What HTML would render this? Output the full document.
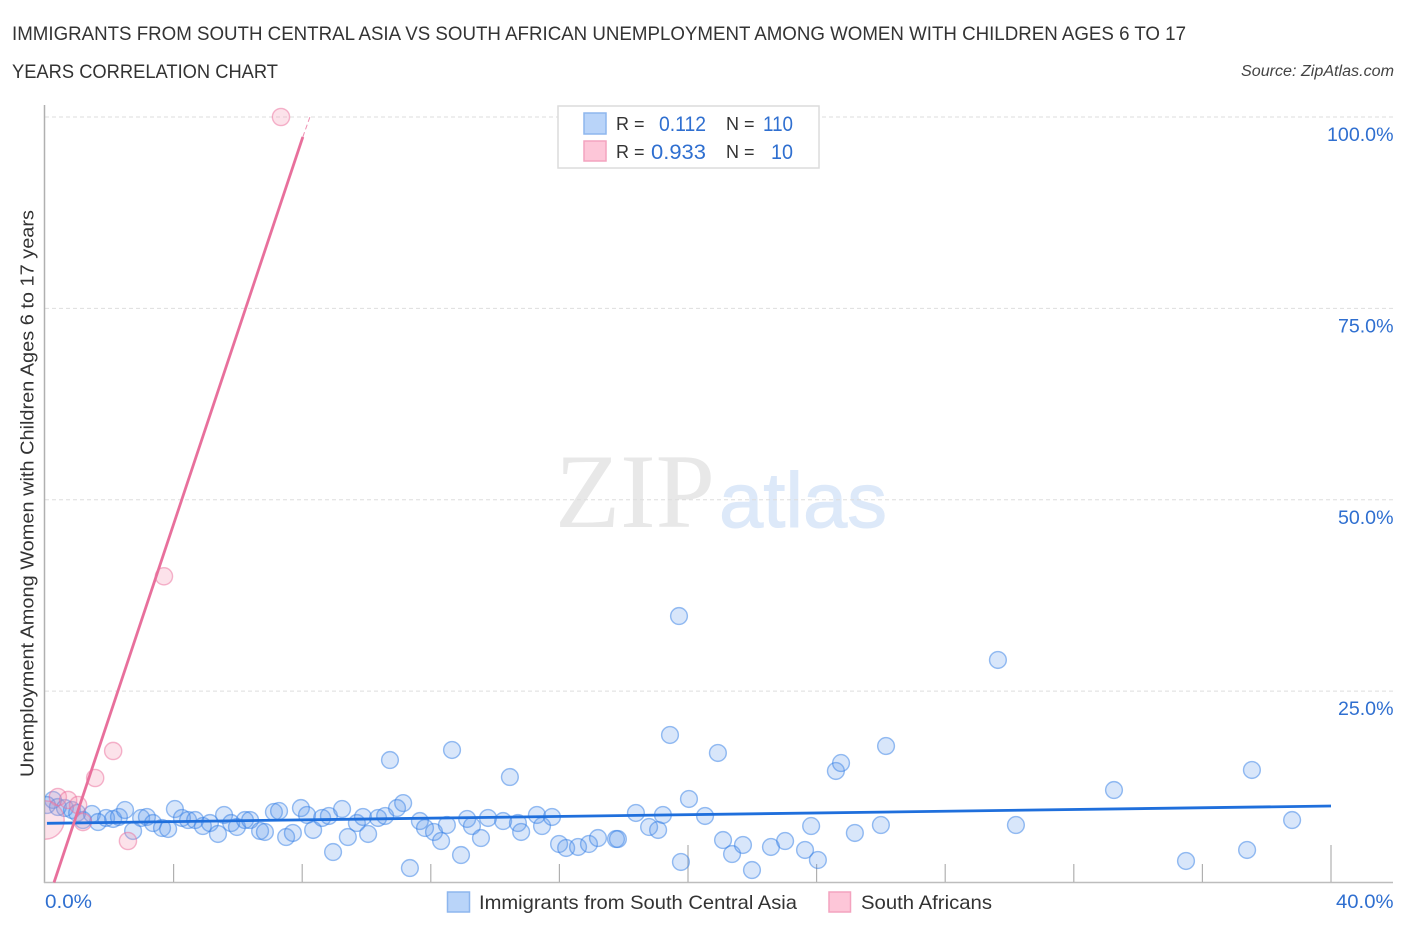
<!DOCTYPE html>
<html lang="en">
<head>
<meta charset="utf-8">
<title>Immigrants from South Central Asia vs South African Unemployment Chart</title>
<style>
  html, body { margin: 0; padding: 0; background: #fff; }
  body { width: 1406px; height: 930px; overflow: hidden; }
  svg { display: block; font-family: "Liberation Sans", sans-serif; }
</style>
</head>
<body>
<svg id="chart" xmlns="http://www.w3.org/2000/svg" width="1406" height="930" viewBox="0 0 1406 930">
  <defs>
    <clipPath id="plot-clip"><rect x="45" y="100" width="1350" height="782.5"></rect></clipPath>
  </defs>
  <text x="12" y="40" font-size="19.5" fill="#333" textLength="1174" lengthAdjust="spacingAndGlyphs">IMMIGRANTS FROM SOUTH CENTRAL ASIA VS SOUTH AFRICAN UNEMPLOYMENT AMONG WOMEN WITH CHILDREN AGES 6 TO 17</text>
  <text x="12" y="78" font-size="19.5" fill="#333" textLength="266" lengthAdjust="spacingAndGlyphs">YEARS CORRELATION CHART</text>
  <text x="1241" y="76" font-size="15.5" font-style="italic" fill="#444" textLength="153" lengthAdjust="spacingAndGlyphs">Source: ZipAtlas.com</text>

  <g>
    <text x="555" y="527" font-family="'Liberation Serif', serif" font-size="106" fill="#e8e8e8" textLength="160" lengthAdjust="spacingAndGlyphs">ZIP</text>
    <text x="719" y="527" font-family="'Liberation Sans', sans-serif" font-size="78" fill="#dde9f9" stroke="#dde9f9" stroke-width="1" textLength="168" lengthAdjust="spacingAndGlyphs">atlas</text>
  </g>

  <g id="grid-layer"></g>
  <g id="axis-layer">
    <line x1="44.5" y1="105" x2="44.5" y2="883" stroke="#b0b0b0" stroke-width="1.5"></line>
    <line x1="44" y1="882.5" x2="1393" y2="882.5" stroke="#bdbdbd" stroke-width="1.5"></line>
  </g>
  <g id="blue-layer" clip-path="url(#plot-clip)"></g>
  <g id="pink-layer" clip-path="url(#plot-clip)"></g>
  <g id="trend-layer"></g>
  <g id="label-layer"></g>

  <text transform="translate(33.5,777) rotate(-90)" x="0" y="0" font-size="18.5" fill="#333" textLength="567" lengthAdjust="spacingAndGlyphs">Unemployment Among Women with Children Ages 6 to 17 years</text>

  <g>
    <rect x="558" y="106" width="261" height="62" fill="#fff" stroke="#dcdcdc" stroke-width="1.5"></rect>
    <rect x="584" y="113" width="22" height="21" fill="#b9d4f9" stroke="#8db6ee" stroke-width="1.5"></rect>
    <rect x="584" y="141" width="22" height="20" fill="#fdc6d8" stroke="#f4a3bf" stroke-width="1.5"></rect>
    <text x="616" y="130" font-size="18" fill="#333">R =</text>
    <text x="659" y="131" font-size="21" fill="#2f6fd0" textLength="47" lengthAdjust="spacingAndGlyphs">0.112</text>
    <text x="726" y="130" font-size="18" fill="#333">N =</text>
    <text x="763" y="131" font-size="21" fill="#2f6fd0" textLength="30" lengthAdjust="spacingAndGlyphs">110</text>
    <text x="616" y="158" font-size="18" fill="#333">R =</text>
    <text x="651" y="159" font-size="21" fill="#2f6fd0" textLength="55" lengthAdjust="spacingAndGlyphs">0.933</text>
    <text x="726" y="158" font-size="18" fill="#333">N =</text>
    <text x="771" y="159" font-size="21" fill="#2f6fd0" textLength="22" lengthAdjust="spacingAndGlyphs">10</text>
  </g>

  <g>
    <rect x="447.5" y="892" width="22" height="20" fill="#b9d4f9" stroke="#8db6ee" stroke-width="1.5"></rect>
    <text x="479" y="909" font-size="19.5" fill="#333" textLength="318" lengthAdjust="spacingAndGlyphs">Immigrants from South Central Asia</text>
    <rect x="829" y="892" width="21.5" height="20" fill="#fdc6d8" stroke="#f4a3bf" stroke-width="1.5"></rect>
    <text x="861" y="909" font-size="19.5" fill="#333" textLength="131" lengthAdjust="spacingAndGlyphs">South Africans</text>
  </g>
</svg>
<script>
var immigrantsX = [0.25,0.06,0.40,0.62,0.84,1.00,1.18,1.46,1.65,1.90,2.12,2.30,2.49,2.74,2.99,3.17,3.36,3.64,3.83,4.04,4.26,4.45,4.67,4.91,5.13,5.38,5.57,5.79,5.97,6.22,6.38,6.69,6.84,7.12,7.28,7.50,7.71,7.96,8.15,8.34,8.62,8.83,9.24,8.96,9.42,9.70,9.89,10.05,10.36,10.58,10.73,10.95,11.14,11.35,11.66,11.82,12.10,12.32,12.50,12.66,12.94,13.13,13.28,13.56,13.78,14.25,14.46,14.71,14.81,15.30,15.46,15.77,15.99,16.21,16.58,16.92,17.20,17.76,17.82,18.38,18.79,19.07,19.22,19.44,19.78,20.03,20.53,20.93,21.09,21.37,21.71,21.99,22.58,23.02,23.64,24.04,23.83,24.60,24.76,25.19,26.00,26.16,30.20,19.72,29.64,33.25,37.54,35.49,37.39,38.79];
var immigrantsY = [10.78,10.12,9.86,9.73,9.47,9.08,8.16,8.95,7.90,8.43,8.30,8.56,9.47,6.73,8.43,8.56,7.77,7.12,6.99,9.60,8.43,8.16,8.16,7.38,7.77,6.34,8.82,7.77,7.25,8.16,8.16,6.73,6.60,9.21,9.34,5.94,6.47,9.73,8.82,6.86,8.43,8.69,9.60,3.98,5.94,7.77,8.56,6.34,8.43,8.69,16.00,9.73,10.38,1.89,8.03,7.12,6.60,5.42,7.51,17.31,3.59,8.30,7.38,5.81,8.43,8.03,13.78,7.77,6.60,8.82,7.38,8.56,5.03,4.51,4.64,5.03,5.81,5.68,5.68,9.08,7.25,6.86,8.82,19.27,2.68,10.91,8.69,16.92,5.55,3.72,4.90,1.63,4.64,5.42,4.25,2.94,7.38,14.57,15.61,6.47,7.51,17.83,7.51,34.81,29.07,12.08,14.70,2.81,4.25,8.16];

var southAfricansX = [7.34,3.70,2.12,1.56,2.58,0.40,0.72,1.03,1.18,0.00];
var southAfricansY = [100.0,40.0,17.18,13.65,5.42,11.17,10.78,10.12,7.90,8.16];
var southAfricansWeight = [1,1,1,1,1,1,1,1,1,5];

var immigrantsTrendX = [0.06,40];
var immigrantsTrendY = [7.73,9.99];
var southAfricansTrendX = [0.28,8.02];
var southAfricansTrendY = [0,97.4];
var southAfricansTrendExtX = [8.02,8.24];
var southAfricansTrendExtY = [97.4,100];

var yTickValues = [100,75,50,25];
var yTickLabels = ["100.0%","75.0%","50.0%","25.0%"];
var xTickValues = [4,8,12,16,20,24,28,32,36,40];
var xMajorTicks = [20,40];
var xEndValues = [0,40];
var xEndLabels = ["0.0%","40.0%"];

function xScale(v) { return 45 + v * 32.15; }
function yScale(v) { return 882.5 - v * 7.655; }

var NS = "http://www.w3.org/2000/svg";
function make(tag, parentId) {
  var el = document.createElementNS(NS, tag);
  document.getElementById(parentId).appendChild(el);
  return el;
}
function drawLine(el, xs, ys, color, width) {
  el.setAttribute("x1", xScale(xs[0]));
  el.setAttribute("y1", yScale(ys[0]));
  el.setAttribute("x2", xScale(xs[1]));
  el.setAttribute("y2", yScale(ys[1]));
  el.setAttribute("stroke", color);
  el.setAttribute("stroke-width", width);
}

yTickValues.forEach(function (v, i) {
  var g = make("line", "grid-layer");
  
  
  g.setAttribute("x1", 45);
  g.setAttribute("x2", 1393);
  g.setAttribute("y1", yScale(v));
  g.setAttribute("y2", yScale(v));
  g.setAttribute("stroke", "#dedede");
  g.setAttribute("stroke-width", 1);
  g.setAttribute("stroke-dasharray", "4 3");

  var t = make("text", "label-layer");
  
  
  t.setAttribute("x", 1393.5);
  t.setAttribute("y", yScale(v) + 24);
  t.setAttribute("text-anchor", "end");
  t.setAttribute("font-size", 19.6);
  t.setAttribute("fill", "#2f6fd0");
  t.textContent = yTickLabels[i];
});

xTickValues.forEach(function (v) {
  var tick = make("line", "axis-layer");
  
  
  tick.setAttribute("x1", xScale(v));
  tick.setAttribute("x2", xScale(v));
  tick.setAttribute("y1", xMajorTicks.indexOf(v) >= 0 ? 845 : 864);
  tick.setAttribute("y2", 882);
  tick.setAttribute("stroke", "#b0b0b0");
  tick.setAttribute("stroke-width", 1.2);
});

xEndValues.forEach(function (v, i) {
  var t = make("text", "label-layer");
  
  
  t.setAttribute("x", i === 0 ? xScale(v) : xScale(v) + 5);
  t.setAttribute("y", 908);
  t.setAttribute("font-size", 19.6);
  t.setAttribute("fill", "#2f6fd0");
  t.setAttribute("textLength", i === 0 ? 47 : 57.5);
  t.setAttribute("lengthAdjust", "spacingAndGlyphs");
  t.textContent = xEndLabels[i];
});

immigrantsX.forEach(function (v, i) {
  var c = make("circle", "blue-layer");
  
  
  c.setAttribute("cx", xScale(v));
  c.setAttribute("cy", yScale(immigrantsY[i]));
  c.setAttribute("r", 8.4);
  c.setAttribute("fill", "rgba(90,150,235,0.24)");
  c.setAttribute("stroke", "rgba(50,125,230,0.5)");
  c.setAttribute("stroke-width", 1.4);
});

southAfricansX.forEach(function (v, i) {
  var c = make("circle", "pink-layer");
  
  
  c.setAttribute("cx", xScale(v));
  c.setAttribute("cy", yScale(southAfricansY[i]));
  c.setAttribute("r", 8.6 * Math.sqrt(southAfricansWeight[i]));
  c.setAttribute("fill", "rgba(245,150,180,0.28)");
  c.setAttribute("stroke", "rgba(235,110,155,0.5)");
  c.setAttribute("stroke-width", 1.4);
});

var blueTrend = make("line", "trend-layer");


drawLine(blueTrend, immigrantsTrendX, immigrantsTrendY, "#1f6fdc", 2.8);

var pinkTrend = make("line", "trend-layer");


drawLine(pinkTrend, southAfricansTrendX, southAfricansTrendY, "#e8709c", 2.8);

var pinkExt = make("line", "trend-layer");


drawLine(pinkExt, southAfricansTrendExtX, southAfricansTrendExtY, "#ee8fb2", 1);
pinkExt.setAttribute("stroke-dasharray", "5 3");
</script>
</body>
</html>
